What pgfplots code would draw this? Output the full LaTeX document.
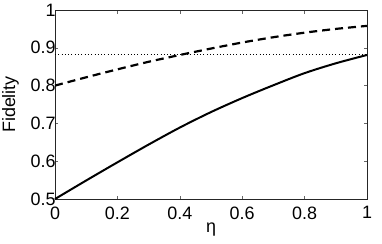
\documentclass[border=0pt]{standalone}
\usepackage{fontspec}
\setmainfont{Liberation Sans}
\usepackage{pgfplots}
\pgfplotsset{compat=1.18}
\begin{document}
\begin{tikzpicture}
\begin{axis}[
  scale only axis,
  width=312bp, height=189bp,
  xmin=0, xmax=1, ymin=0.5, ymax=1,
  xtick={0,0.2,...,1}, ytick={0.5,0.6,...,1},
  tick align=inside,
  major tick length=3.5bp,
  tick style={black!60, line width=0.5pt},
  axis line style={black!85, line width=0.6pt},
  /pgf/number format/assume math mode=true,
  /pgf/number format/fixed,
  ticklabel style={font=\fontsize{18}{18}\selectfont},
  xticklabel style={yshift=-4bp},
  yticklabel style={xshift=4bp},
  label style={font=\fontsize{18}{18}\selectfont},
  xlabel={η},
  ylabel={Fidelity},
  xlabel style={at={(axis description cs:0.5,-0.164)}, anchor=center},
  ylabel style={at={(axis description cs:-0.1426,0.5)}, anchor=center},
  clip=false,
]
\addplot[black, line width=2pt, smooth] coordinates {
(0,0.5) (0.1,0.549) (0.2,0.597) (0.3,0.644) (0.4,0.689) (0.5,0.730)
(0.6,0.767) (0.7,0.801) (0.8,0.833) (0.9,0.859) (1.0,0.881)};
\addplot[black, line width=2.2pt, dash pattern=on 8bp off 5bp, smooth] coordinates {
(0,0.800) (0.1,0.822) (0.2,0.843) (0.3,0.863) (0.4,0.881) (0.5,0.898)
(0.6,0.914) (0.7,0.928) (0.8,0.940) (0.9,0.950) (1.0,0.958)};
\addplot[black, line width=0.8pt, dash pattern=on 0.9bp off 2.4bp] coordinates {(0,0.882) (1,0.882)};
\end{axis}
\pgfresetboundingbox
\useasboundingbox ([shift={(-55bp,-45bp)}]current axis.south west) rectangle ([shift={(15bp,10bp)}]current axis.north east);
\end{tikzpicture}
\end{document}
